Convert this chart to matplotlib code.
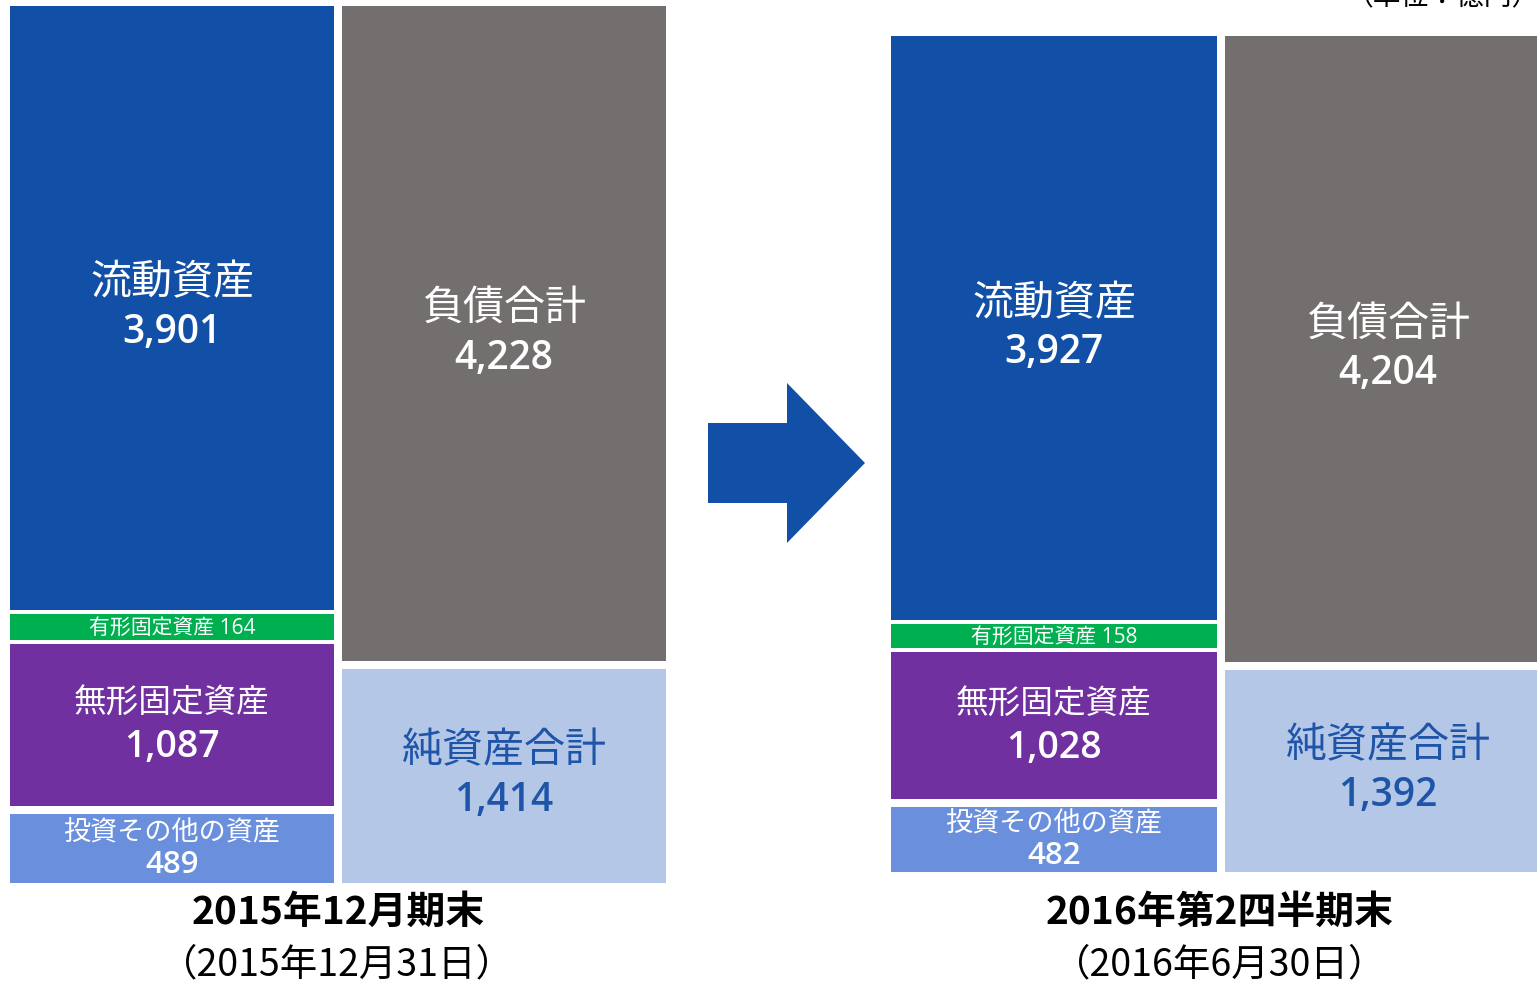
import numpy as np
import matplotlib.pyplot as plt
from matplotlib.patches import FancyArrow

plt.rcParams['font.family'] = ['Noto Sans CJK JP', 'DejaVu Sans']
NUM_FONT = ['Open Sans', 'Noto Sans CJK JP', 'DejaVu Sans']

W, H = 1537, 983

periods = ['2015年12月期末', '2016年第2四半期末']
dates = ['（2015年12月31日）', '（2016年6月30日）']
unit = '（単位：億円）'

# stacked bottom -> top
asset_names = ['投資その他の資産', '無形固定資産', '有形固定資産', '流動資産']
assets_2015 = [489, 1087, 164, 3901]
assets_2016 = [482, 1028, 158, 3927]
asset_colors = ['#6a8fdc', '#7030a0', '#00b050', '#1150a6']

claim_names = ['純資産合計', '負債合計']
claims_2015 = [1414, 4228]
claims_2016 = [1392, 4204]
claim_colors = ['#b4c7e7', '#736f6e']

gap = 8  # white gap between blocks, px

fig = plt.figure(figsize=(W / 100, H / 100), dpi=100)


def px_axes(x0, y0, x1, y1):
    return fig.add_axes([x0 / W, 1 - y1 / H, (x1 - x0) / W, (y1 - y0) / H])


def label(ax, x, yc, top, bottom, color, fs_top, fs_bot, sep):
    ax.annotate(top, xy=(x, yc), xytext=(0, sep / 2), textcoords='offset pixels',
                ha='center', va='center', fontsize=fs_top, color=color, zorder=5)
    ax.annotate(bottom, xy=(x, yc), xytext=(0, -sep / 2), textcoords='offset pixels',
                ha='center', va='center', fontsize=fs_bot, color=color,
                family=NUM_FONT, fontweight='semibold', zorder=5)


def sheet(ax, assets, claims):
    top = max(sum(assets), sum(claims))
    px_per_x = ax.get_position().width * W / 2
    for x, vals, cols, names in [(0, assets, asset_colors, asset_names),
                                 (1, claims, claim_colors, claim_names)]:
        bottoms = np.concatenate([[0], np.cumsum(vals)[:-1]])
        bars = ax.bar(x, vals, bottom=bottoms, width=1.0, color=cols,
                      edgecolor='white', linewidth=gap * 0.72)
        for bar, v, b, name in zip(bars, vals, bottoms, names):
            yc = b + v / 2
            num = f'{v:,}'
            if name == '有形固定資産':
                # thin band: no edge of its own, drawn over the neighbours' edges
                w = 1 - gap / px_per_x
                bar.set_x(x - w / 2)
                bar.set_width(w)
                bar.set_linewidth(0)
                bar.set_zorder(3)
                ax.annotate(f'{name} {num}', xy=(x, yc), xytext=(0, -1),
                            textcoords='offset pixels', ha='center', va='center',
                            fontsize=15, color='white', family=NUM_FONT, zorder=5)
            elif name in ('流動資産', '負債合計'):
                label(ax, x, yc, name, num, 'white', 29.5, 28, 50)
            elif name == '純資産合計':
                label(ax, x, yc, name, num, '#1f55a8', 29.5, 28, 50)
            elif name == '無形固定資産':
                label(ax, x, yc, name, num, 'white', 23.5, 27, 44)
            else:
                label(ax, x, yc, name, num, 'white', 19.5, 22.5, 32)
    ax.set_xlim(-0.5, 1.5)
    ax.set_ylim(0, top)
    ax.axis('off')


ax1 = px_axes(6, 2, 670, 887)
sheet(ax1, assets_2015, claims_2015)
ax2 = px_axes(887, 32, 1555, 876)
sheet(ax2, assets_2016, claims_2016)

# arrow between the two balance sheets
deco = fig.add_axes([0, 0, 1, 1], zorder=-1)
deco.set_xlim(0, W)
deco.set_ylim(H, 0)
deco.axis('off')
deco.add_patch(FancyArrow(708, 463, 157, 0, width=80, head_width=160, head_length=78,
                          length_includes_head=True, color='#1150a6', lw=0))

fig.text(338 / W, 1 - 912 / H, periods[0], ha='center', va='center',
         fontsize=28, fontweight='bold')
fig.text(337 / W, 1 - 965 / H, dates[0], ha='center', va='center', fontsize=27)
fig.text(1220 / W, 1 - 912 / H, periods[1], ha='center', va='center',
         fontsize=28, fontweight='bold')
fig.text(1220 / W, 1 - 965 / H, dates[1], ha='center', va='center', fontsize=27)
fig.text(1540 / W, 1 - 5 / H, unit, ha='right', va='baseline', fontsize=20)

fig.savefig('out.png', dpi=100)
